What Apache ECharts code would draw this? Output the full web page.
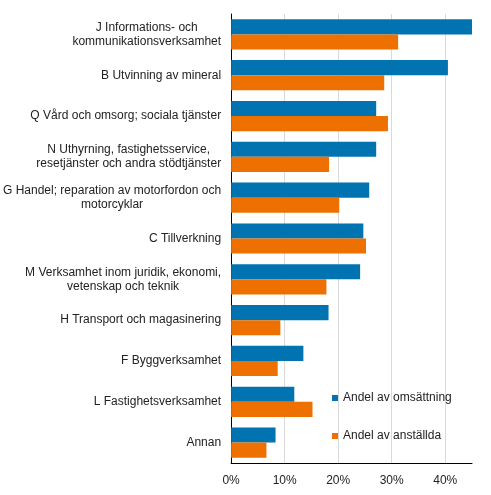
<!DOCTYPE html>
<html>
<head>
<meta charset="utf-8">
<script src="https://cdn.jsdelivr.net/npm/echarts@6/dist/echarts.min.js"></script>
<style>
html, body { margin: 0; padding: 0; background: #fff; }
#mainChart { width: 491px; height: 495px; }
</style>
</head>
<body>
<div id="mainChart"></div>
<script>
var categories = [
    'J Informations- och\nkommunikationsverksamhet',
    'B Utvinning av mineral',
    'Q Vård och omsorg; sociala tjänster',
    'N Uthyrning, fastighetsservice,\nresetjänster och andra stödtjänster',
    'G Handel; reparation av motorfordon och\nmotorcyklar',
    'C Tillverkning',
    'M Verksamhet inom juridik, ekonomi,\nvetenskap och teknik',
    'H Transport och magasinering',
    'F Byggverksamhet',
    'L Fastighetsverksamhet',
    'Annan'
];
var seriesNames = ['Andel av omsättning', 'Andel av anställda'];
var omsattning = [45.0, 40.5, 27.1, 27.1, 25.8, 24.7, 24.1, 18.2, 13.5, 11.8, 8.3];
var anstallda = [31.2, 28.6, 29.3, 18.3, 20.2, 25.2, 17.8, 9.2, 8.7, 15.2, 6.6];
var xTicks = [0, 10, 20, 30, 40];

var font = 'Liberation Sans, Arial, sans-serif';
var chart = echarts.init(document.getElementById('mainChart'));
var option = {
    animation: false,
    color: ['#0073b0', '#ed7000'],
    grid: { left: 230, right: 19, top: 14, bottom: 32 },
    legend: {
        orient: 'vertical',
        left: 327,
        top: 387,
        itemWidth: 6,
        itemHeight: 6,
        itemGap: 26,
        icon: 'rect',
        data: seriesNames,
        textStyle: { fontFamily: font, fontSize: 12, color: '#222' }
    },
    xAxis: {
        type: 'value',
        min: 0,
        max: 45,
        interval: 10,
        axisLine: { show: true, lineStyle: { color: '#000', width: 1 } },
        axisTick: { show: false },
        splitLine: { show: true, showMinLine: false, showMaxLine: false, lineStyle: { color: '#d9d9d9' } },
        axisLabel: {
            fontFamily: font, fontSize: 12, color: '#222', margin: 12,
            formatter: function (v) { return xTicks.indexOf(v) >= 0 ? v + '%' : ''; }
        }
    },
    yAxis: {
        type: 'category',
        inverse: true,
        data: categories,
        axisLine: { show: true, lineStyle: { color: '#000', width: 1 } },
        axisTick: { show: false },
        axisLabel: {
            fontFamily: font, fontSize: 12, color: '#222', margin: 10, lineHeight: 14,
            // centrera raderna inom etiketten
            formatter: function (v) {
                return v.split('\n').map(function (s) { return '{c|' + s + '}'; }).join('\n');
            },
            rich: {
                c: { fontFamily: font, fontSize: 12, color: '#222', lineHeight: 14, align: 'center' }
            }
        }
    },
    series: [
        { name: seriesNames[0], type: 'bar', data: omsattning, barGap: 0, barCategoryGap: '26%' },
        { name: seriesNames[1], type: 'bar', data: anstallda, barGap: 0, barCategoryGap: '26%' }
    ]
};
chart.setOption(option);
</script>
</body>
</html>
